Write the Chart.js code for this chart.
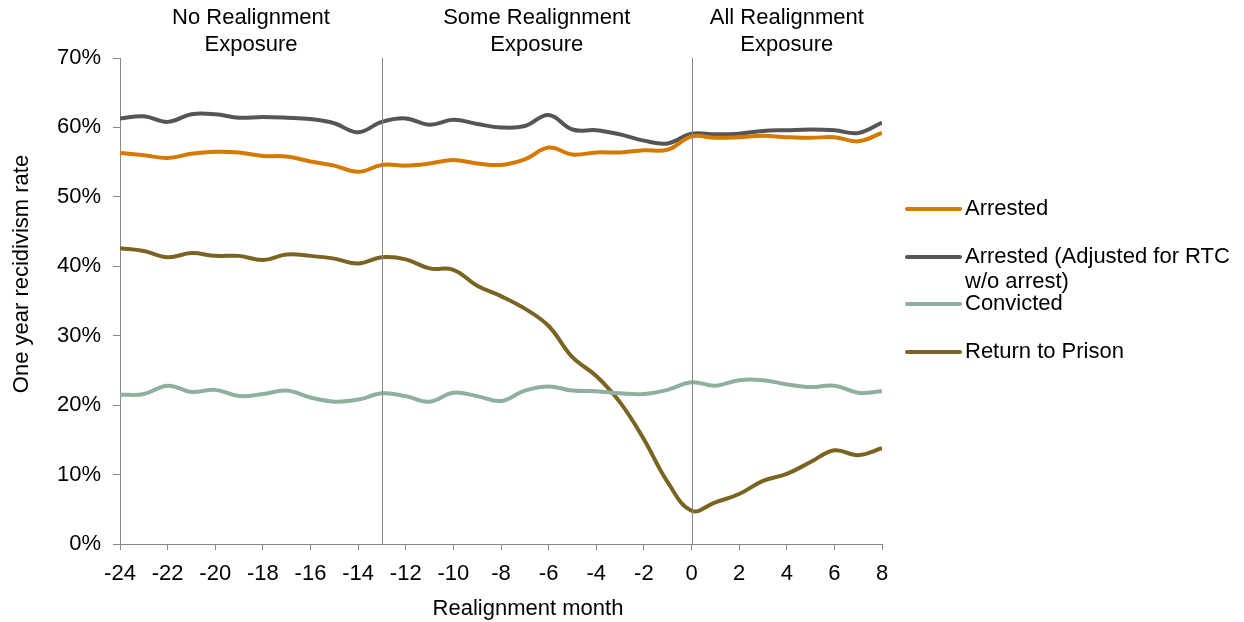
<!DOCTYPE html>
<html>
<head>
<meta charset="utf-8">
<script src="https://cdn.jsdelivr.net/npm/chart.js@4/dist/chart.umd.min.js"></script>
<style>
  html, body { margin: 0; padding: 0; background: #fff; }
  #wrap { width: 1244px; height: 622px; }
</style>
</head>
<body>
<div id="wrap"><canvas id="chart" width="1244" height="622"></canvas></div>
<script>
const months = [-24, -23, -22, -21, -20, -19, -18, -17, -16, -15, -14, -13, -12, -11, -10, -9, -8,
  -7, -6, -5, -4, -3, -2, -1, 0, 1, 2, 3, 4, 5, 6, 7, 8]

const arrested = [56.3, 56.0, 55.6, 56.2, 56.5, 56.4, 55.9, 55.8, 55.1, 54.5, 53.6, 54.6, 54.5,
  54.8, 55.3, 54.8, 54.6, 55.4, 57.1, 56.1, 56.4, 56.4, 56.7, 56.8, 58.7, 58.5, 58.6, 58.8,
  58.6, 58.5, 58.6, 58.0, 59.2]
const arrestedAdj = [61.3, 61.6, 60.8, 61.9, 61.9, 61.4, 61.5, 61.4, 61.2, 60.6, 59.3, 60.8, 61.3,
  60.4, 61.1, 60.5, 60.0, 60.2, 61.8, 59.7, 59.6, 59.0, 58.1, 57.7, 59.1, 59.0, 59.1, 59.5,
  59.6, 59.7, 59.6, 59.2, 60.7]
const convicted = [21.5, 21.6, 22.8, 21.9, 22.2, 21.3, 21.6, 22.1, 21.1, 20.5, 20.8, 21.7, 21.3,
  20.5, 21.8, 21.3, 20.6, 22.1, 22.7, 22.1, 22.0, 21.7, 21.6, 22.2, 23.3, 22.8, 23.6, 23.6,
  23.0, 22.6, 22.8, 21.8, 22.0]
const returnToPrison = [42.6, 42.2, 41.3, 41.9, 41.5, 41.5, 40.9, 41.7, 41.5, 41.1, 40.4, 41.3, 41.0,
  39.7, 39.5, 37.2, 35.7, 33.9, 31.4, 26.9, 24.2, 20.4, 15.1, 8.9, 4.8, 6.0, 7.2, 9.1,
  10.1, 11.8, 13.5, 12.8, 13.8]

const seriesNames = ['Arrested', 'Arrested (Adjusted for RTC\nw/o arrest)', 'Convicted', 'Return to Prison']
const seriesColors = ['#D57A00', '#555555', '#8FAF9F', '#7A6422']

// period boundaries and the labels above each period
const dividers = [-13, 0]
const periods = [
  { from: -24, to: -13, text: ['No Realignment', 'Exposure'] },
  { from: -13, to: 0, text: ['Some Realignment', 'Exposure'] },
  { from: 0, to: 8, text: ['All Realignment', 'Exposure'] }
]

const FONT = '"Liberation Sans", Arial, sans-serif'
const AXIS = '#888888'

const toPoints = vals => vals.map((v, i) => ({ x: months[i], y: v }))

const extras = {
  id: 'extras',
  afterDatasetsDraw(chart) {
    const { ctx, chartArea, scales } = chart
    ctx.save()
    // divider lines
    ctx.strokeStyle = AXIS
    ctx.lineWidth = 1
    dividers.forEach(d => {
      const x = Math.round(scales.x.getPixelForValue(d)) + 0.5
      ctx.beginPath()
      ctx.moveTo(x, chartArea.top)
      ctx.lineTo(x, chartArea.bottom)
      ctx.stroke()
    })
    // period labels
    ctx.fillStyle = '#000'
    ctx.font = '22px ' + FONT
    ctx.textAlign = 'center'
    ctx.textBaseline = 'middle'
    periods.forEach(p => {
      const x = scales.x.getPixelForValue((p.from + p.to) / 2)
      p.text.forEach((t, i) => ctx.fillText(t, x, 18 + i * 27))
    })
    // axis titles
    ctx.fillText('Realignment month', 528, 609)
    ctx.save()
    ctx.translate(22, 274)
    ctx.rotate(-Math.PI / 2)
    ctx.fillText('One year recidivism rate', 0, 0)
    ctx.restore()
    // legend
    const legendY = [209, 257, 304, 352]
    ctx.textAlign = 'left'
    seriesNames.forEach((name, i) => {
      ctx.strokeStyle = seriesColors[i]
      ctx.lineWidth = 4
      ctx.lineCap = 'round'
      ctx.beginPath()
      ctx.moveTo(907, legendY[i])
      ctx.lineTo(960, legendY[i])
      ctx.stroke()
      name.split('\n').forEach((line, j) => ctx.fillText(line, 965, legendY[i] + j * 25))
    })
    ctx.restore()
  }
}

new Chart(document.getElementById('chart'), {
  type: 'line',
  data: {
    datasets: [arrested, arrestedAdj, convicted, returnToPrison].map((vals, i) => ({
      label: seriesNames[i],
      data: toPoints(vals),
      borderColor: seriesColors[i],
      backgroundColor: seriesColors[i],
      borderWidth: 4,
      pointRadius: 0,
      tension: 0.4,
      fill: false
    }))
  },
  options: {
    responsive: false,
    animation: false,
    layout: { padding: { top: 58, right: 362, left: 0, bottom: 0 } },
    plugins: {
      legend: { display: false },
      tooltip: { enabled: false }
    },
    scales: {
      x: {
        type: 'linear',
        min: -24,
        max: 8,
        afterFit: s => { s.height = 78 },
        ticks: { stepSize: 2, color: '#000', font: { size: 22, family: FONT }, padding: 11, maxRotation: 0, autoSkip: false },
        grid: { drawOnChartArea: false, color: AXIS, tickLength: 6 },
        border: { color: AXIS }
      },
      y: {
        min: 0,
        max: 70,
        afterFit: s => { s.width = 120 },
        ticks: { stepSize: 10, color: '#000', font: { size: 22, family: FONT }, padding: 12, callback: v => v + '%' },
        grid: { drawOnChartArea: false, color: AXIS, tickLength: 7 },
        border: { color: AXIS }
      }
    }
  },
  plugins: [extras]
})
</script>
</body>
</html>
